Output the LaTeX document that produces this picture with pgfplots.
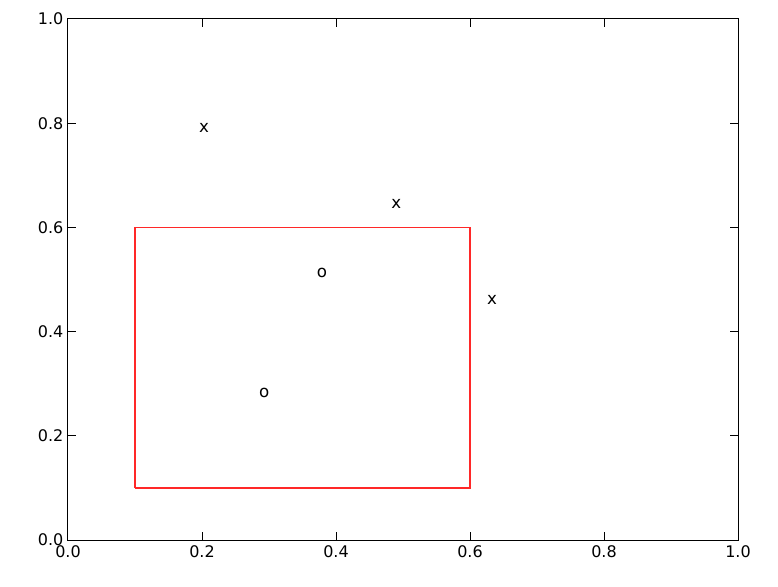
\documentclass[border=0pt]{standalone}
\usepackage{pgfplots}
\pgfplotsset{compat=1.18}
\usetikzlibrary{calc}
\usepackage{fontspec}
\setmainfont{DejaVu Sans}
\definecolor{boxred}{RGB}{255,40,40}
\begin{document}
\begin{tikzpicture}[x=1pt,y=1pt]
\begin{axis}[
  scale only axis,
  width=502.5pt, height=390.75pt,
  xmin=0, xmax=1, ymin=0, ymax=1,
  xtick={0,0.2,...,1.0}, ytick={0,0.2,...,1.0},
  tick align=inside,
  major tick length=6pt,
  tick style={black, line width=0.75pt},
  axis line style={black, line width=0.75pt},
  /pgf/number format/fixed,
  /pgf/number format/fixed zerofill,
  /pgf/number format/precision=1,
  /pgf/number format/assume math mode=true,
  ticklabel style={font=\fontsize{12}{14}\selectfont},
  xticklabel style={yshift=-1pt},
  clip=false,
]
\addplot[draw=boxred, color=boxred, line width=0.9pt, mark=none] coordinates {(0.1,0.1) (0.6,0.1) (0.6,0.6) (0.1,0.6) (0.1,0.1)};
\addplot[only marks, mark=none, point meta=explicit symbolic,
  nodes near coords, nodes near coords align={center},
  every node near coord/.append style={font=\fontsize{12.5}{14}\selectfont, black, inner sep=0pt, anchor=center}]
  table[meta=label] {
x y label
0.203 0.791 x
0.490 0.645 x
0.633 0.461 x
0.379 0.512 o
0.293 0.282 o
};
\end{axis}
\path (current axis.south west) ++(-51pt,-34.5pt) rectangle ($(current axis.north east)+(30pt,14.25pt)$);
\end{tikzpicture}
\end{document}
